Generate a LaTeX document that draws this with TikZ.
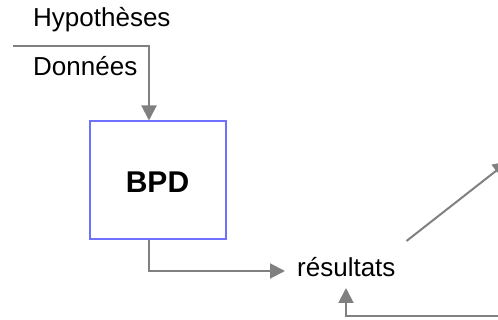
\documentclass[tikz,border=0pt]{standalone}
\usepackage{fontspec}
\setmainfont{Liberation Sans}
\usetikzlibrary{arrows.meta}
\definecolor{linegray}{RGB}{128,128,128}
\definecolor{boxblue}{RGB}{112,112,255}
\begin{document}
\begin{tikzpicture}[x=1pt,y=-1pt,
  flow/.style={draw=linegray,line width=2pt,-{Triangle[length=15pt,width=15pt]}},
  label/.style={inner sep=0pt,anchor=base west,font=\fontsize{26}{30}\selectfont},
  procbox/.style={draw=boxblue,line width=2pt,fill=white,minimum width=136pt,minimum height=118pt,inner sep=0pt,font=\fontsize{30}{34}\bfseries\selectfont}]
\useasboundingbox (0,0) rectangle (498,320);
\clip (0,0) rectangle (498,320);
% input labels
\node[label] (hyp) at (33,27) {Hypothèses};
\node[label] (don) at (33,75.5) {Données};
% processing block
\node[procbox] (bpd) at (157.5,180.5) {};
\node[inner sep=0pt,anchor=base,font=\fontsize{30}{34}\bfseries\selectfont] (bpdtxt) at (157.5,192.5) {BPD};
% output label
\node[label] (res) at (297,277) {résultats};
% connector anchors
\coordinate (inL) at (13,46);
\coordinate (inC) at (149,46);
\coordinate (outC) at (149,271);
\coordinate (diagS) at (406.5,241);
\coordinate (diagE) at (508,161.5);
\coordinate (backR) at (520,316.5);
\coordinate (backC) at (346,316.5);
% connectors
\draw[flow] (inL) -- (inC) -- (inC |- bpd.north);
\draw[flow] (bpd.south -| outC) -- (outC) -- ([xshift=-12pt]res.west |- outC);
\draw[flow] (diagS) -- (diagE);
\draw[flow] (backR) -- (backC) -- (346,288);
\end{tikzpicture}
\end{document}
